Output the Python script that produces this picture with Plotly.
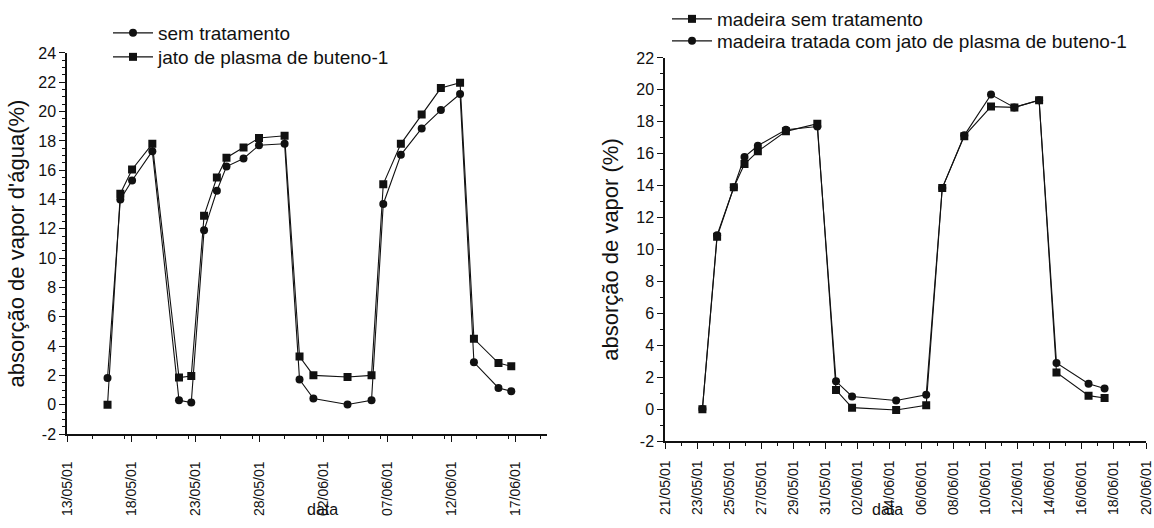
import plotly.graph_objects as go

# ---------------- Left chart data ----------------
left_dates = [
    "2001-05-16 04:00", "2001-05-17 04:00", "2001-05-18 02:00", "2001-05-19 16:00",
    "2001-05-21 18:00", "2001-05-22 17:00", "2001-05-23 17:00", "2001-05-24 17:00",
    "2001-05-25 11:00", "2001-05-26 19:00", "2001-05-28 00:00", "2001-05-30 00:00",
    "2001-05-31 04:00", "2001-06-01 06:00", "2001-06-03 22:00", "2001-06-05 19:00",
    "2001-06-06 17:00", "2001-06-08 02:00", "2001-06-09 17:00", "2001-06-11 05:00",
    "2001-06-12 17:00", "2001-06-13 19:00", "2001-06-15 17:00", "2001-06-16 17:00",
]
sem_tratamento = [1.83, 14.0, 15.3, 17.3, 0.31, 0.16, 11.9, 14.6, 16.25, 16.8, 17.7, 17.8,
                  1.72, 0.43, 0.02, 0.31, 13.7, 17.05, 18.85, 20.1, 21.2, 2.9, 1.15, 0.93]
jato_plasma = [0.0, 14.4, 16.05, 17.8, 1.86, 1.97, 12.9, 15.5, 16.85, 17.55, 18.2, 18.35,
               3.3, 2.01, 1.9, 2.01, 15.05, 17.8, 19.8, 21.6, 21.97, 4.5, 2.85, 2.63]

# ---------------- Right chart data ----------------
right_dates = [
    "2001-05-23 08:00", "2001-05-24 06:00", "2001-05-25 07:00", "2001-05-25 23:00",
    "2001-05-26 19:00", "2001-05-28 13:00", "2001-05-30 12:00", "2001-05-31 16:00",
    "2001-06-01 16:00", "2001-06-04 10:00", "2001-06-06 07:00", "2001-06-07 07:00",
    "2001-06-08 16:00", "2001-06-10 08:00", "2001-06-11 19:00", "2001-06-13 08:00",
    "2001-06-14 10:00", "2001-06-16 10:00", "2001-06-17 10:00",
]
madeira_sem = [0.0, 10.8, 13.9, 15.35, 16.15, 17.4, 17.88, 1.2, 0.1, -0.05, 0.25,
               13.85, 17.1, 18.95, 18.9, 19.35, 2.3, 0.85, 0.7]
madeira_tratada = [0.02, 10.9, 13.9, 15.8, 16.5, 17.5, 17.7, 1.75, 0.8, 0.55, 0.9,
                   13.85, 17.15, 19.7, 18.9, 19.35, 2.9, 1.6, 1.3]

# ---------------- Tick labels / titles ----------------
left_y_ticks = [-2, 0, 2, 4, 6, 8, 10, 12, 14, 16, 18, 20, 22, 24]
left_y_labels = ["-2", "0", "2", "4", "6", "8", "10", "12", "14", "16", "18", "20", "22", "24"]
right_y_ticks = [-2, 0, 2, 4, 6, 8, 10, 12, 14, 16, 18, 20, 22]
right_y_labels = ["-2", "0", "2", "4", "6", "8", "10", "12", "14", "16", "18", "20", "22"]

left_title_y = "absorção de vapor d'água(%)"
right_title_y = "absorção de vapor (%)"
x_title = "data"

DAY = 86400000
INK = "#111111"
FONT = "Liberation Sans, Arial, sans-serif"

fig = go.Figure()

line = dict(color=INK, width=1.1)
fig.add_trace(go.Scatter(x=left_dates, y=sem_tratamento, mode="lines+markers",
                         name="sem tratamento", line=line,
                         marker=dict(symbol="circle", size=8, color=INK),
                         xaxis="x", yaxis="y", legend="legend", showlegend=True))
fig.add_trace(go.Scatter(x=left_dates, y=jato_plasma, mode="lines+markers",
                         name="jato de plasma de buteno-1", line=line,
                         marker=dict(symbol="square", size=8, color=INK),
                         xaxis="x", yaxis="y", legend="legend2", showlegend=True))
fig.add_trace(go.Scatter(x=right_dates, y=madeira_sem, mode="lines+markers",
                         name="madeira sem tratamento", line=line,
                         marker=dict(symbol="square", size=8, color=INK),
                         xaxis="x2", yaxis="y2", legend="legend3", showlegend=True))
fig.add_trace(go.Scatter(x=right_dates, y=madeira_tratada, mode="lines+markers",
                         name="madeira tratada com jato de plasma de buteno-1", line=line,
                         marker=dict(symbol="circle", size=8, color=INK),
                         xaxis="x2", yaxis="y2", legend="legend4", showlegend=True))

W, H = 1154, 528


def px_x(v):
    return v / W


def px_y(v):
    return (H - v) / H


base_axis = dict(showline=True, linecolor=INK, linewidth=1.5, ticks="outside",
                 tickcolor=INK, ticklen=6, tickwidth=1.2, showgrid=False, zeroline=False,
                 automargin=False)
xfont = dict(family=FONT, size=14, color=INK)
yfont = dict(family=FONT, size=16, color=INK)
title_font = dict(family=FONT, size=22, color=INK)
legend_font = dict(family=FONT, size=19, color=INK)


def legend_at(xpx, ypx):
    return dict(x=px_x(xpx), y=px_y(ypx), xanchor="left", yanchor="middle",
                bgcolor="rgba(0,0,0,0)", font=legend_font, itemwidth=40,
                tracegroupgap=0)


fig.update_layout(
    width=W, height=H,
    showlegend=True,
    margin=dict(l=0, r=0, t=0, b=0),
    paper_bgcolor="white", plot_bgcolor="white",
    font=dict(family=FONT, color=INK),
    xaxis=dict(domain=[px_x(67), px_x(547)], anchor="y", type="date",
               range=["2001-05-13", "2001-06-19 12:00"],
               tick0="2001-05-13", dtick=5 * DAY, tickformat="%d/%m/%y",
               tickangle=-90, ticklabelstandoff=14, tickfont=xfont,
               minor=dict(dtick=2.5 * DAY, ticklen=3, tickcolor=INK, ticks="outside"),
               **base_axis),
    yaxis=dict(domain=[px_y(434), px_y(52)], anchor="x", range=[-2, 24],
               tickmode="array", tickvals=left_y_ticks, ticktext=left_y_labels,
               tickfont=yfont,
               minor=dict(dtick=0.5, ticklen=3, tickcolor=INK, ticks="outside"),
               title=dict(text=left_title_y, font=title_font, standoff=8),
               **base_axis),
    xaxis2=dict(domain=[px_x(665), px_x(1146)], anchor="y2", type="date",
                range=["2001-05-21", "2001-06-20"],
                tick0="2001-05-21", dtick=2 * DAY, tickformat="%d/%m/%y",
                tickangle=-90, ticklabelstandoff=6, tickfont=xfont,
                minor=dict(dtick=DAY, ticklen=3, tickcolor=INK, ticks="outside"),
                **base_axis),
    yaxis2=dict(domain=[px_y(441), px_y(57)], anchor="x2", range=[-2, 22],
                tickmode="array", tickvals=right_y_ticks, ticktext=right_y_labels,
                tickfont=yfont,
                minor=dict(dtick=1, ticklen=3, tickcolor=INK, ticks="outside"),
                title=dict(text=right_title_y, font=title_font, standoff=12),
                **base_axis),
    legend=legend_at(108, 33),
    legend2=legend_at(108, 57),
    legend3=legend_at(667, 18),
    legend4=legend_at(667, 41),
    annotations=[
        dict(text=x_title, x=px_x(305), y=px_y(520), xref="paper", yref="paper",
             showarrow=False, font=dict(family=FONT, size=16, color=INK)),
        dict(text=x_title, x=px_x(905), y=px_y(520), xref="paper", yref="paper",
             showarrow=False, font=dict(family=FONT, size=16, color=INK)),
    ],
)

fig.write_html("out.html")
